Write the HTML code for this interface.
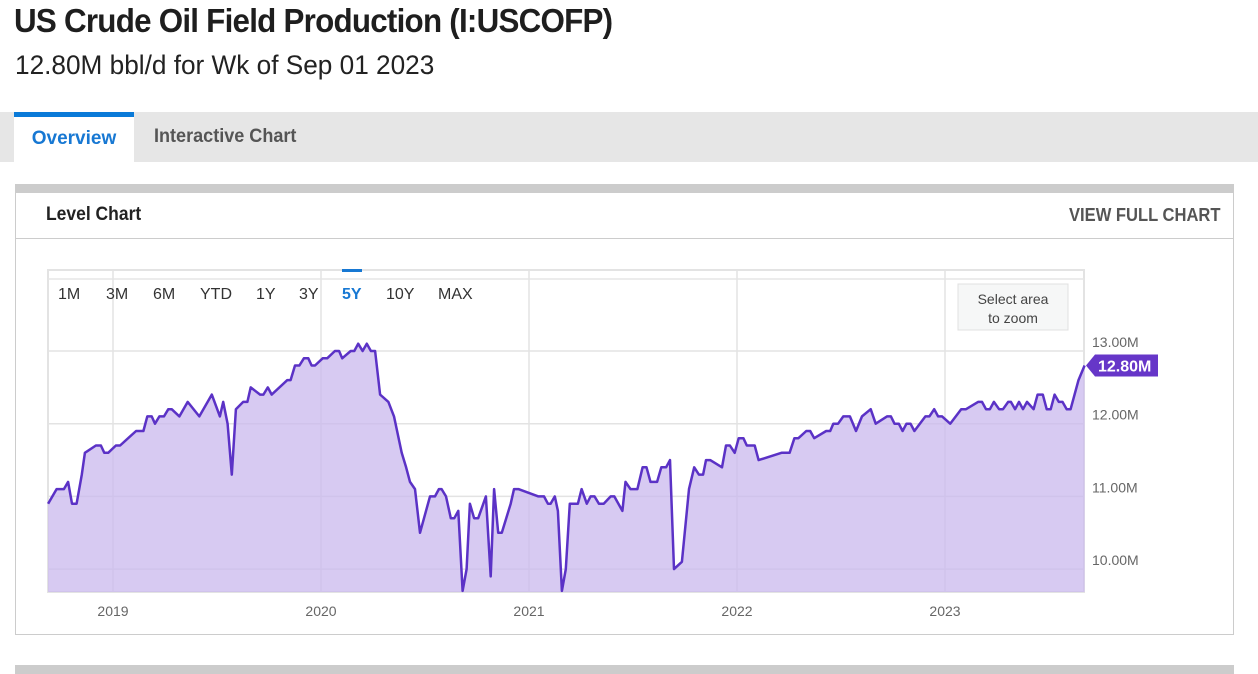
<!DOCTYPE html>
<html><head><meta charset="utf-8">
<style>
*{margin:0;padding:0;box-sizing:border-box}
body{width:1258px;height:674px;background:#fff;font-family:"Liberation Sans",sans-serif;position:relative;overflow:hidden;color:#222}
.abs{position:absolute}
#title{left:14px;top:2px;font-size:33px;font-weight:bold;color:#1e1e1e;letter-spacing:-0.8px;transform:scaleX(0.95);transform-origin:left}
#sub{left:15px;top:50px;font-size:27px;color:#222;transform:scaleX(0.97);transform-origin:left}
#tabbar{left:0;top:112px;width:1258px;height:50px;background:#e6e6e6}
#tab1{left:14px;top:112px;width:120px;height:50px;background:#fff;border-top:5px solid #0a7ad8;color:#1778d3;font-weight:bold;font-size:19px;text-align:center;line-height:43px}
#tab2{left:154px;top:112px;height:50px;line-height:50px;color:#555;font-weight:bold;font-size:19px;transform:scaleX(0.95);transform-origin:left}
#card{left:15px;top:184px;width:1219px;height:451px;border:1px solid #ccc;border-top:9px solid #ccc;background:#fff}
#cardhead{left:15px;top:238px;width:1219px;height:1px;background:#ccc}
#lvl{left:46px;top:204px;font-size:19px;font-weight:bold;color:#222;transform:scaleX(0.92);transform-origin:left}
#vfc{left:1069px;top:205px;font-size:18px;font-weight:bold;color:#555;transform:scaleX(0.92);transform-origin:left}
#bottombar{left:15px;top:665px;width:1219px;height:9px;background:#ccc}
</style></head><body>
<div class="abs" id="title">US Crude Oil Field Production (I:USCOFP)</div>
<div class="abs" id="sub">12.80M bbl/d for Wk of Sep 01 2023</div>
<div class="abs" id="tabbar"></div>
<div class="abs" id="tab1">Overview</div>
<div class="abs" id="tab2">Interactive Chart</div>
<div class="abs" id="card"></div>
<div class="abs" id="cardhead"></div>
<div class="abs" id="lvl">Level Chart</div>
<div class="abs" id="vfc">VIEW FULL CHART</div>
<div class="abs" id="bottombar"></div>
<svg class="abs" style="left:0;top:0" width="1258" height="674" id="chart"></svg>
<script>
const times=[2018.688,2018.729,2018.764,2018.784,2018.803,2018.825,2018.850,2018.865,2018.918,2018.942,2018.958,2018.977,2019.014,2019.034,2019.111,2019.146,2019.165,2019.186,2019.202,2019.223,2019.245,2019.266,2019.282,2019.319,2019.359,2019.415,2019.475,2019.514,2019.530,2019.551,2019.571,2019.591,2019.626,2019.646,2019.662,2019.707,2019.723,2019.744,2019.763,2019.838,2019.854,2019.875,2019.896,2019.918,2019.939,2019.955,2019.971,2020.008,2020.030,2020.067,2020.087,2020.102,2020.143,2020.160,2020.179,2020.200,2020.220,2020.240,2020.260,2020.284,2020.324,2020.351,2020.388,2020.409,2020.428,2020.452,2020.476,2020.524,2020.548,2020.567,2020.580,2020.601,2020.624,2020.641,2020.660,2020.681,2020.700,2020.716,2020.736,2020.756,2020.793,2020.816,2020.832,2020.852,2020.869,2020.912,2020.928,2020.949,2021.045,2021.053,2021.072,2021.091,2021.104,2021.124,2021.139,2021.158,2021.177,2021.196,2021.235,2021.253,2021.278,2021.296,2021.315,2021.336,2021.359,2021.393,2021.410,2021.449,2021.464,2021.488,2021.521,2021.546,2021.565,2021.584,2021.616,2021.636,2021.659,2021.678,2021.697,2021.735,2021.769,2021.794,2021.817,2021.837,2021.851,2021.871,2021.928,2021.947,2021.966,2021.989,2022.008,2022.031,2022.047,2022.085,2022.104,2022.214,2022.253,2022.276,2022.295,2022.333,2022.352,2022.371,2022.429,2022.448,2022.463,2022.486,2022.511,2022.543,2022.572,2022.601,2022.643,2022.667,2022.721,2022.740,2022.757,2022.778,2022.796,2022.815,2022.834,2022.853,2022.906,2022.925,2022.948,2022.967,2022.986,2023.025,2023.078,2023.101,2023.159,2023.178,2023.197,2023.216,2023.235,2023.260,2023.279,2023.304,2023.317,2023.337,2023.356,2023.375,2023.394,2023.426,2023.445,2023.470,2023.489,2023.508,2023.527,2023.547,2023.565,2023.585,2023.604,2023.642,2023.671];
const values=[10.9,11.1,11.1,11.2,10.9,10.9,11.3,11.6,11.7,11.7,11.6,11.6,11.7,11.7,11.9,11.9,12.1,12.1,12.0,12.1,12.1,12.2,12.2,12.1,12.3,12.1,12.4,12.1,12.3,12.0,11.3,12.2,12.3,12.3,12.5,12.4,12.4,12.5,12.4,12.6,12.6,12.8,12.8,12.9,12.9,12.8,12.8,12.9,12.9,13.0,13.0,12.9,13.0,13.0,13.1,13.0,13.1,13.0,13.0,12.4,12.3,12.1,11.6,11.4,11.2,11.1,10.5,11.0,11.0,11.1,11.1,11.0,10.7,10.7,10.8,9.7,10.0,10.9,10.7,10.7,11.0,9.9,11.1,10.5,10.5,10.9,11.1,11.1,11.0,11.0,11.0,10.9,10.9,11.0,10.8,9.7,10.0,10.9,10.9,11.1,10.9,11.0,11.0,10.9,10.9,11.0,11.0,10.8,11.2,11.1,11.1,11.4,11.4,11.2,11.2,11.4,11.4,11.5,10.0,10.1,11.1,11.4,11.3,11.3,11.5,11.5,11.4,11.7,11.7,11.6,11.8,11.8,11.7,11.7,11.5,11.6,11.6,11.8,11.8,11.9,11.9,11.8,11.9,11.9,12.0,12.0,12.1,12.1,11.9,12.1,12.2,12.0,12.1,12.1,12.0,12.0,11.9,12.0,12.0,11.9,12.1,12.1,12.2,12.1,12.1,12.0,12.2,12.2,12.3,12.3,12.2,12.2,12.3,12.2,12.2,12.3,12.3,12.2,12.3,12.2,12.3,12.2,12.4,12.4,12.2,12.2,12.4,12.3,12.3,12.2,12.2,12.6,12.8,12.8];
const yTicks=[10,11,12,13];
const yTickLabels=["10.00M","11.00M","12.00M","13.00M"];
const xTicks=[2019,2020,2021,2022,2023];
const xTickLabels=["2019","2020","2021","2022","2023"];
const rangeButtons=["1M","3M","6M","YTD","1Y","3Y","5Y","10Y","MAX"];
const lastLabel="12.80M";

const NS="http://www.w3.org/2000/svg";
const svg=document.getElementById('chart');
const L=48,R=1084,T=270,B=592;
function xs(t){return 113+(t-2019)*208;}
function ys(v){return 351+(13-v)*72.7;}
function mk(tag,attrs,parent){const e=document.createElementNS(NS,tag);for(const k in attrs)e.setAttribute(k,attrs[k]);(parent||svg).appendChild(e);return e;}

const bg=mk('rect',{x:L,y:T,width:R-L,height:B-T,fill:'#fff',stroke:'#e3e3e3','stroke-width':2});


const tl=mk('line',{x1:L,x2:R,y1:279,y2:279,stroke:'#e6e6e6','stroke-width':1.5});



xTicks.forEach((t,i)=>{
  const g=mk('line',{x1:xs(t),x2:xs(t),y1:T,y2:B,stroke:'#e3e3e3','stroke-width':1.5});
  
  
  const tx=mk('text',{x:xs(t),y:616,'text-anchor':'middle','font-size':14,fill:'#666','font-family':'Liberation Sans, sans-serif'});
  tx.textContent=xTickLabels[i];
  
  
});
yTicks.forEach((v,i)=>{
  const g=mk('line',{x1:L,x2:R,y1:ys(v),y2:ys(v),stroke:'#e3e3e3','stroke-width':1.5});
  
  
  const tx=mk('text',{x:1092,y:ys(v)-4,'font-size':14,fill:'#666','font-family':'Liberation Sans, sans-serif'});
  tx.textContent=yTickLabels[i];
  
  
});

let d='';
times.forEach((t,i)=>{d+=(i?'L':'M')+xs(t).toFixed(1)+','+ys(values[i]).toFixed(1);});
const area=mk('path',{d:d+'L'+xs(times[times.length-1]).toFixed(1)+','+B+'L'+xs(times[0]).toFixed(1)+','+B+'Z',fill:'#c9b8ee','fill-opacity':0.75});


const line=mk('path',{d:d,fill:'none',stroke:'#5b32c6','stroke-width':2.5,'stroke-linejoin':'round'});



const bx=[58,106,153,200,256,299,342,386,438];
rangeButtons.forEach((b,i)=>{
  const tx=mk('text',{x:bx[i],y:299,'font-size':16,fill:b==='5Y'?'#1778d3':'#333','font-weight':b==='5Y'?'bold':'normal','font-family':'Liberation Sans, sans-serif'});
  tx.textContent=b;
  
  
});
const ind=mk('rect',{x:342,y:269,width:20,height:3,fill:'#1778d3'});



const zb=mk('rect',{x:958,y:284,width:110,height:46,fill:'#f6f7f7',stroke:'#e0e0e0'});


['Select area','to zoom'].forEach((s,i)=>{
  const tx=mk('text',{x:1013,y:304+i*19,'text-anchor':'middle','font-size':14,fill:'#444','font-family':'Liberation Sans, sans-serif'});
  tx.textContent=s;
  
  
});

const lv=values[values.length-1], ly=ys(lv);
const tag=mk('path',{d:`M1086,${ly}L1095,${ly-11}L1158,${ly-11}L1158,${ly+11}L1095,${ly+11}Z`,fill:'#6636c8'});


const tt=mk('text',{x:1098,y:ly+6,'font-size':16,'font-weight':'bold',fill:'#fff','font-family':'Liberation Sans, sans-serif'});
tt.textContent=lastLabel;


</script>
</body></html>
